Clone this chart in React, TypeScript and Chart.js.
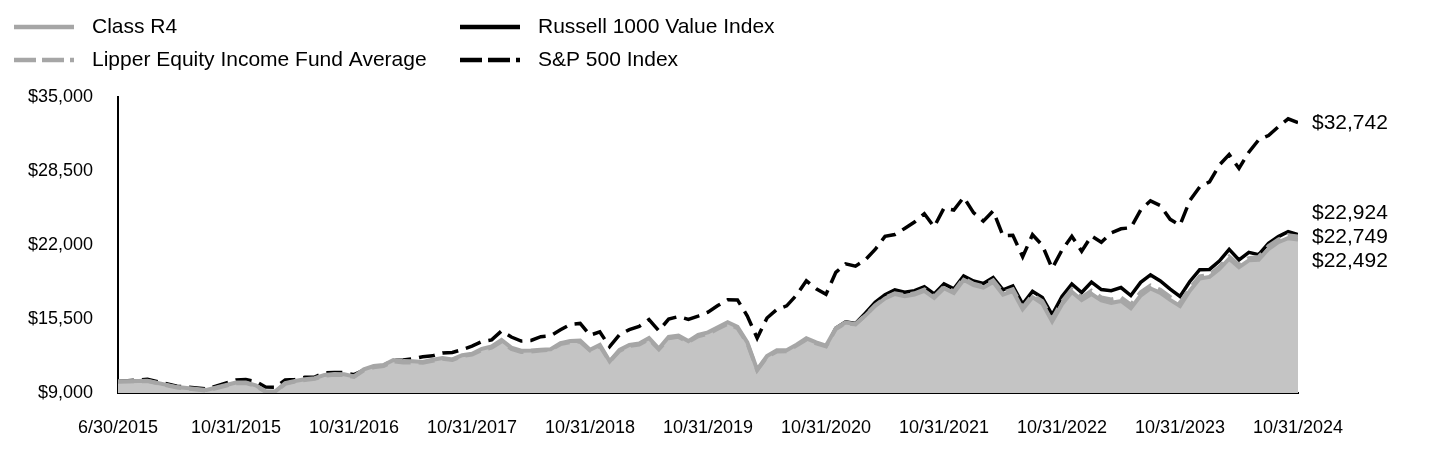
import React, { useEffect, useRef } from 'react';
import { Chart, LinearScale, registerables } from 'chart.js';

// ---------- data ----------
const xTickMonths = [0, 4, 16, 28, 40, 52, 64, 76, 88, 100, 112];
const xTickLabels = [
  '6/30/2015', '10/31/2015', '10/31/2016', '10/31/2017', '10/31/2018', '10/31/2019',
  '10/31/2020', '10/31/2021', '10/31/2022', '10/31/2023', '10/31/2024',
];
const yTicks = [9000, 15500, 22000, 28500, 35000];

const seriesNames = ['Class R4', 'Lipper Equity Income Fund Average', 'Russell 1000 Value Index', 'S&P 500 Index'];

// monthly values, 6/30/2015 .. 10/31/2024
const classR4 = [
  10000, 10080, 9520, 9260, 9920, 9930, 9680,
  9150, 9140, 9860, 10060, 10210, 10300, 10590, 10670, 10650, 10460, 11080, 11370,
  11460, 11900, 11800, 11780, 11730, 11920, 12080, 11950, 12320, 12440, 12880, 13100,
  13660, 12990, 12720, 12740, 12810, 12840, 13380, 13560, 13600, 12800, 13220, 11780,
  12780, 13220, 13340, 13820, 12900, 13920, 14050, 13560, 14100, 14330, 14780, 15220,
  14820, 13450, 11050, 12250, 12750, 12750, 13250, 13800, 13450, 13150, 14700, 15200,
  15050, 15800, 16650, 17300, 17700, 17500, 17650, 17980, 17350, 18200, 17780, 18950,
  18480, 18250, 18750, 17650, 17960, 16360, 17420, 16860, 15280, 16800, 17880, 17160,
  17700, 17140, 16920, 17080, 16440, 17560, 18180, 17800, 17180, 16650, 17980, 19050,
  19200, 19880, 20800, 20050, 20650, 20700, 21650, 22250, 22600, 22492,
];

const lipperAvg = [
  10000, 10050, 9480, 9210, 9860, 9870, 9630,
  9110, 9120, 9800, 10000, 10150, 10240, 10520, 10600, 10590, 10410, 10990, 11260,
  11370, 11780, 11690, 11690, 11660, 11830, 12010, 11900, 12240, 12370, 12780, 12980,
  13510, 12860, 12600, 12640, 12740, 12780, 13290, 13480, 13510, 12740, 13130, 11760,
  12700, 13130, 13250, 13720, 12830, 13800, 13930, 13480, 13980, 14200, 14640, 15080,
  14700, 13370, 11020, 12180, 12650, 12660, 13160, 13700, 13360, 13090, 14620, 15150,
  15020, 15820, 16700, 17360, 17760, 17590, 17760, 18100, 17470, 18330, 17920, 19080,
  18600, 18380, 18900, 17800, 18110, 16520, 17610, 17060, 15500, 17020, 18100, 17400,
  17980, 17400, 17220, 17400, 16760, 17860, 18450, 18060, 17440, 16900, 18220, 19250,
  19390, 20080, 20990, 20240, 20850, 20950, 21900, 22480, 22860, 22749,
];

const russell1000Value = [
  10000, 10044, 9447, 9161, 9850, 9856, 9610,
  9113, 9111, 9767, 9970, 10122, 10209, 10502, 10583, 10561, 10392, 10984, 11262,
  11344, 11750, 11630, 11608, 11548, 11736, 11893, 11753, 12103, 12192, 12565, 12747,
  13240, 12610, 12402, 12439, 12511, 12542, 13045, 13242, 13269, 12582, 12963, 11718,
  12630, 13034, 13117, 13579, 12713, 13626, 13739, 13342, 13818, 14008, 14441, 14841,
  14522, 13116, 10875, 12097, 12512, 12423, 12920, 13445, 13114, 12942, 14683, 15245,
  15111, 16016, 16958, 17641, 18052, 17845, 17986, 18342, 17695, 18590, 18142, 19284,
  18835, 18616, 19141, 18061, 18412, 16803, 17924, 17384, 15859, 17484, 18573, 17825,
  18750, 18088, 17992, 18264, 17555, 18720, 19370, 18845, 18117, 17477, 18795, 19836,
  19856, 20589, 21618, 20695, 21351, 21150, 22150, 22740, 23180, 22924,
];

const sp500 = [
  10000, 10210, 9594, 9357, 10147, 10177, 10016,
  9519, 9507, 10152, 10191, 10374, 10401, 10785, 10800, 10802, 10606, 10999, 11217,
  11430, 11884, 11898, 12021, 12190, 12266, 12518, 12557, 12816, 13114, 13517, 13667,
  14450, 13917, 13564, 13615, 13944, 14031, 14553, 15027, 15113, 14079, 14366, 13069,
  14116, 14569, 14852, 15453, 14472, 15492, 15716, 15467, 15756, 16098, 16682, 17186,
  17179, 15765, 13818, 15590, 16332, 16657, 17596, 18862, 18145, 17662, 19596, 20349,
  20144, 20700, 21606, 22760, 22920, 23454, 24012, 24742, 23591, 25245, 25071, 26194,
  24840, 24097, 24991, 22812, 22853, 20968, 22901, 21967, 19944, 21560, 22765, 21454,
  22801, 22245, 23061, 23421, 23522, 25077, 25882, 25470, 24255, 23746, 25914, 27091,
  27546, 29017, 29951, 28729, 30154, 31237, 31618, 32386, 33079, 32742,
];

// ---------- styles ----------
const FONT = "'Liberation Sans', Arial, Helvetica, sans-serif";
const GRAY_LINE = '#a6a6a6';
const GRAY_FILL = '#c4c4c4';
const BLACK = '#000000';

// x scale whose labelled ticks are evenly spaced; values are linear between ticks
class SegmentScale extends LinearScale {
  static id = 'segment';
  static defaults = {};
  buildTicks() {
    return xTickMonths.map((value) => ({ value }));
  }
  getPixelForValue(value: number) {
    const t = xTickMonths;
    const n = t.length - 1;
    let i = 0;
    while (i < n - 1 && value > t[i + 1]) i++;
    const dec = (i + (value - t[i]) / (t[i + 1] - t[i])) / n;
    return (this as any).getPixelForDecimal(dec);
  }
  getValueForPixel(pixel: number) {
    const t = xTickMonths;
    const n = t.length - 1;
    const d = (this as any).getDecimalForPixel(pixel) * n;
    const i = Math.max(0, Math.min(n - 1, Math.floor(d)));
    return t[i] + (d - i) * (t[i + 1] - t[i]);
  }
}

Chart.register(...registerables, SegmentScale as any);

const fmt = (v: number) => '$' + Math.round(v).toLocaleString('en-US');

const legendEntries = [
  { text: seriesNames[0], color: GRAY_LINE, dash: [] as number[], col: 0, row: 0 },
  { text: seriesNames[1], color: GRAY_LINE, dash: [22, 6], col: 0, row: 1 },
  { text: seriesNames[2], color: BLACK, dash: [] as number[], col: 1, row: 0 },
  { text: seriesNames[3], color: BLACK, dash: [22, 6], col: 1, row: 1 },
];

const annotatePlugin = {
  id: 'annotate',
  afterDraw(chart: any) {
    const ctx = chart.ctx as CanvasRenderingContext2D;
    ctx.save();
    // legend
    const colX = [14, 460];
    const rowY = [27, 60];
    ctx.font = `21px ${FONT}`;
    ctx.textBaseline = 'middle';
    ctx.textAlign = 'left';
    for (const e of legendEntries) {
      const x = colX[e.col];
      const y = rowY[e.row];
      ctx.beginPath();
      ctx.setLineDash(e.dash);
      ctx.lineWidth = 4.5;
      ctx.strokeStyle = e.color;
      ctx.lineCap = 'butt';
      ctx.moveTo(x, y);
      ctx.lineTo(x + 60, y);
      ctx.stroke();
      ctx.setLineDash([]);
      ctx.fillStyle = '#000';
      ctx.fillText(e.text, x + 78, y);
    }
    // end labels
    const area = chart.chartArea;
    const lastOf = (idx: number) => {
      const meta = chart.getDatasetMeta(idx);
      const pt = meta.data[meta.data.length - 1];
      return pt.y as number;
    };
    const dsValues = chart.data.datasets.map((d: any) => d.data[d.data.length - 1].y as number);
    const lx = area.right + 14;
    // S&P alone
    ctx.fillText(fmt(dsValues[3]), lx, lastOf(3));
    // the three close ones spread apart
    const group = [0, 1, 2].map((i) => ({ y: lastOf(i), v: dsValues[i] }));
    group.sort((a, b) => a.y - b.y);
    const center = group.reduce((s, g) => s + g.y, 0) / group.length;
    group.forEach((g, k) => {
      ctx.fillText(fmt(g.v), lx, center + (k - 1) * 24);
    });
    ctx.restore();
  },
};

export default function App() {
  const canvasRef = useRef<HTMLCanvasElement | null>(null);

  useEffect(() => {
    document.body.style.margin = '0';
    const canvas = canvasRef.current;
    if (!canvas) return;
    const toPts = (arr: number[]) => arr.map((v, i) => ({ x: i, y: v }));

    const chart = new Chart(canvas, {
      type: 'line',
      data: {
        datasets: [
          {
            label: seriesNames[0],
            data: toPts(classR4),
            borderColor: GRAY_LINE,
            backgroundColor: GRAY_FILL,
            borderWidth: 4,
            fill: 'start',
            pointRadius: 0,
            tension: 0,
            order: 2,
          },
          {
            label: seriesNames[1],
            data: toPts(lipperAvg),
            borderColor: GRAY_LINE,
            borderWidth: 4,
            borderDash: [16, 8],
            fill: false,
            pointRadius: 0,
            tension: 0,
            order: 1,
          },
          {
            label: seriesNames[2],
            data: toPts(russell1000Value),
            borderColor: BLACK,
            borderWidth: 3.5,
            fill: false,
            pointRadius: 0,
            tension: 0,
            order: 3,
          },
          {
            label: seriesNames[3],
            data: toPts(sp500),
            borderColor: BLACK,
            borderWidth: 3.5,
            borderDash: [16, 8],
            fill: false,
            pointRadius: 0,
            tension: 0,
            order: 4,
          },
        ] as any,
      },
      options: {
        animation: false,
        responsive: true,
        maintainAspectRatio: false,
        layout: { padding: { left: 0, right: 142, top: 97, bottom: 0 } },
        plugins: {
          legend: { display: false },
          tooltip: { enabled: false },
        },
        scales: {
          x: {
            type: 'segment' as any,
            min: 0,
            max: 112,
            offset: false,
            grid: { display: false, drawTicks: false },
            border: { display: true, color: BLACK, width: 2 },
            ticks: {
              autoSkip: false,
              maxRotation: 0,
              minRotation: 0,
              padding: 24,
              color: '#000',
              font: { family: FONT, size: 18 },
              callback: (_v: any, i: number) => xTickLabels[i],
            },
            afterFit: (s: any) => {
              s.height = 75;
            },
          } as any,
          y: {
            type: 'linear',
            min: 9000,
            max: 35000,
            grid: { display: false, drawTicks: false },
            border: { display: true, color: BLACK, width: 2 },
            ticks: {
              padding: 25,
              color: '#000',
              font: { family: FONT, size: 18 },
              callback: (v: any) => fmt(Number(v)),
            },
            afterBuildTicks: (s: any) => {
              s.ticks = yTicks.map((value) => ({ value }));
            },
            afterFit: (s: any) => {
              s.width = 118;
            },
          },
        },
      },
      plugins: [annotatePlugin],
    });

    return () => chart.destroy();
  }, []);

  return (
    <div style={{ position: 'relative', width: 1440, height: 468 }}>
      <canvas ref={canvasRef} />
    </div>
  );
}
